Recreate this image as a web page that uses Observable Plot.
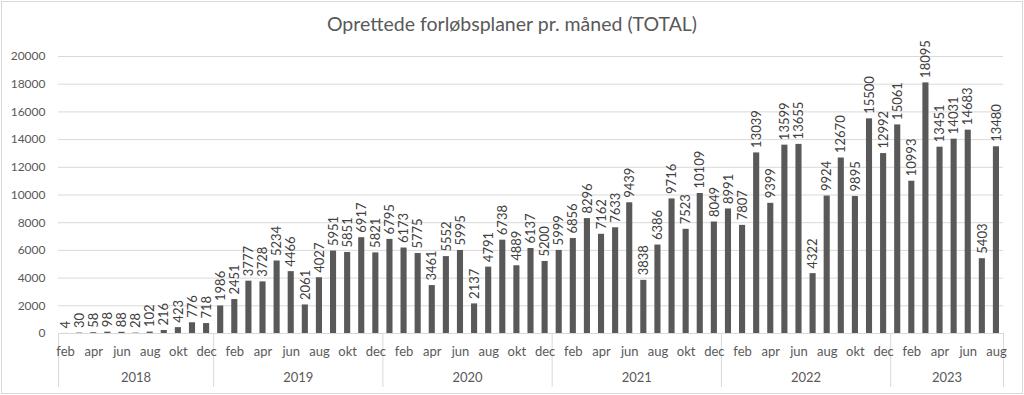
<!DOCTYPE html>
<html>
<head>
<meta charset="utf-8">
<script src="https://cdn.jsdelivr.net/npm/d3@7"></script>
<script src="https://cdn.jsdelivr.net/npm/@observablehq/plot@0.6"></script>
<style>
  html, body { margin: 0; padding: 0; background: #fff; }
  #chart { position: relative; width: 1024px; height: 395px; font-family: Lato, "Open Sans", sans-serif; }
  #frame { position: absolute; left: 1px; top: 1px; width: 1020px; height: 391px; border: 1px solid #d9d9d9; pointer-events: none; }
  #title { position: absolute; left: 0; top: 12px; width: 1024px; text-align: center; font-size: 19.5px; color: #595959; z-index: 1; }
  #plot { position: absolute; left: 0; top: 0; }
</style>
</head>
<body>
<div id="chart">
  <div id="plot"></div>
  <div id="title">Oprettede forløbsplaner pr. måned (TOTAL)</div>
  <div id="frame"></div>
</div>
<script>
const monthNames = ["jan","feb","mar","apr","mai","jun","jul","aug","sep","okt","nov","dec"];
const years = [2018, 2019, 2020, 2021, 2022, 2023];
const firstMonth = [1, 0, 0, 0, 0, 0];
const values2018 = [4, 30, 58, 98, 88, 28, 102, 216, 423, 776, 718];
const values2019 = [1986, 2451, 3777, 3728, 5234, 4466, 2061, 4027, 5951, 5851, 6917, 5821];
const values2020 = [6795, 6173, 5775, 3461, 5552, 5995, 2137, 4791, 6738, 4889, 6137, 5200];
const values2021 = [5999, 6856, 8296, 7162, 7633, 9439, 3838, 6386, 9716, 7523, 10109, 8049];
const values2022 = [8991, 7807, 13039, 9399, 13599, 13655, 4322, 9924, 12670, 9895, 15500, 12992];
const values2023 = [15061, 10993, 18095, 13451, 14031, 14683, 5403, 13480];
const yTicks = [0, 2000, 4000, 6000, 8000, 10000, 12000, 14000, 16000, 18000, 20000];

const seriesByYear = [values2018, values2019, values2020, values2021, values2022, values2023];
const rows = [];
const yearGroups = [];
seriesByYear.forEach((vals, yi) => {
  const start = rows.length;
  vals.forEach((v, k) => {
    rows.push({i: rows.length, year: years[yi], month: monthNames[firstMonth[yi] + k], value: v});
  });
  yearGroups.push({year: years[yi], start, end: rows.length - 1});
});
const n = rows.length;
const boundaries = [-0.5, ...yearGroups.map(g => g.end + 0.5)];
const monthTicks = rows.filter((d, k) => k % 2 === 0).map(d => d.i);
const yearCenters = yearGroups.map(g => (g.start + g.end) / 2);

const grey = "#595959";
const light = "#d9d9d9";

const chart = Plot.plot({
  width: 1024,
  height: 395,
  marginLeft: 58,
  marginRight: 21,
  marginTop: 56,
  marginBottom: 62,
  style: {fontFamily: "Lato, 'Open Sans', sans-serif", background: "transparent"},
  x: {type: "linear", domain: [-0.5, n - 0.5], axis: null},
  y: {domain: [0, 20000], axis: null},
  marks: [
    Plot.ruleY(yTicks, {stroke: light, strokeWidth: 1}),
    Plot.axisY({ticks: yTicks, tickSize: 0, tickPadding: 13, tickFormat: d => String(d), fontSize: 12, fill: grey, label: null}),
    Plot.rectY(rows, {x1: d => d.i - 0.5, x2: d => d.i + 0.5, y: "value", fill: grey, insetLeft: 4, insetRight: 4}),
    Plot.text(rows, {x: "i", y: "value", text: d => String(d.value), rotate: -90, textAnchor: "start", dy: -5, fontSize: 13, fill: "#404040"}),
    Plot.axisX({ticks: boundaries, tickSize: 54, tickFormat: () => "", stroke: light, label: null}),
    Plot.axisX({ticks: monthTicks, tickSize: 0, tickPadding: 13, tickFormat: i => rows[i].month, fontSize: 13, fill: grey, label: null}),
    Plot.axisX({ticks: yearCenters, tickSize: 0, tickPadding: 39, tickFormat: (c, k) => String(yearGroups[k].year), fontSize: 13, fill: grey, label: null}),
    Plot.ruleY([0], {stroke: light, strokeWidth: 1})
  ]
});
document.getElementById("plot").appendChild(chart);
</script>
</body>
</html>
